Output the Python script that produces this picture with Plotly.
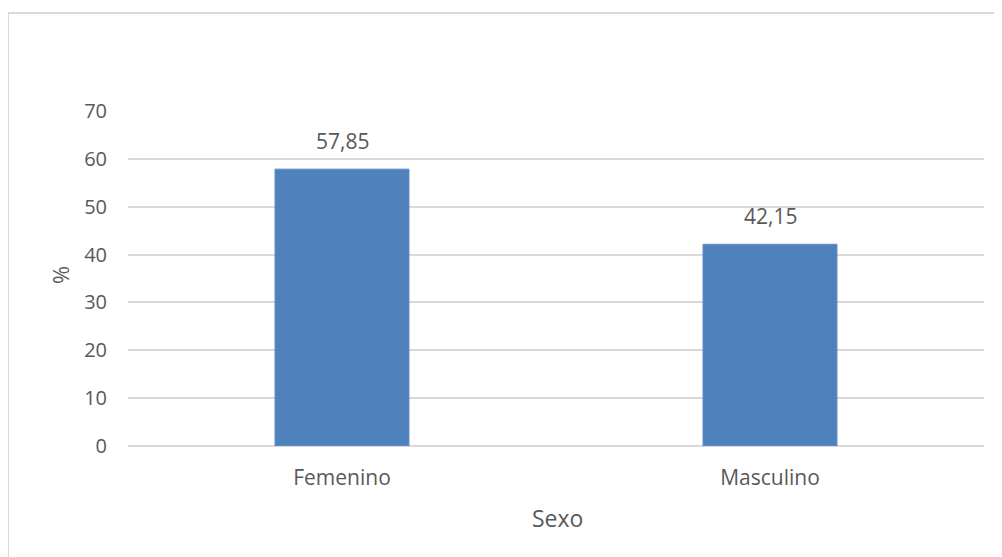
import plotly.graph_objects as go

categories = ["Femenino", "Masculino"]
values = [57.85, 42.15]
y_ticks = [0, 10, 20, 30, 40, 50, 60, 70]

# page has an 8px body margin; compensate so the plot lands where the reference has it
OFF = 8
W, H = 1002 - OFF, 557 - OFF
L, R, T, B = 128 - OFF, 18, 111 - OFF, 111
pw, ph = W - L - R, H - T - B

font_color = "#595959"
font_family = "Open Sans, Lato, sans-serif"

fig = go.Figure()
fig.add_trace(go.Bar(
    x=categories, y=values,
    marker=dict(color="#4F81BD", line=dict(color="#5B8DCA", width=1)),
    width=0.313,
    hoverinfo="skip",
))

for c, v in zip(categories, values):
    fig.add_annotation(
        x=c, y=v, xref="x", yref="y",
        text=f"{v:.2f}".replace(".", ","),
        showarrow=False, yanchor="bottom", yshift=12,
        font=dict(size=21, color=font_color, family=font_family),
    )

def px_x(x):
    return (x - OFF - L) / pw

def px_y(y):
    return (H - B - (y - OFF)) / ph

# axis titles
fig.add_annotation(x=px_x(557), y=px_y(518), xref="paper", yref="paper",
                   xanchor="center", yanchor="middle",
                   text="Sexo", showarrow=False,
                   font=dict(size=23, color=font_color, family=font_family))
fig.add_annotation(x=px_x(60), y=px_y(275), xref="paper", yref="paper",
                   xanchor="center", yanchor="middle",
                   text="%", showarrow=False, textangle=-90,
                   font=dict(size=22, color=font_color, family=font_family))

# chart border (left and top edges visible)
bx0 = px_x(8)
by1 = px_y(13)
fig.add_shape(type="line", xref="paper", yref="paper", x0=bx0, x1=bx0,
              y0=-1, y1=by1, line=dict(color="#d9d9d9", width=2))
fig.add_shape(type="line", xref="paper", yref="paper", x0=bx0, x1=2,
              y0=by1, y1=by1, line=dict(color="#d9d9d9", width=2))

fig.update_layout(
    width=W, height=H,
    margin=dict(l=L, r=R, t=T, b=B),
    plot_bgcolor="white", paper_bgcolor="white",
    showlegend=False,
    font=dict(family=font_family, color=font_color, size=20),
    xaxis=dict(showgrid=False, showline=False, zeroline=False,
               ticks="", ticklabelstandoff=17,
               tickfont=dict(size=21, color=font_color)),
    yaxis=dict(range=[0, 70], tickvals=y_ticks, showgrid=True,
               gridcolor="#d9d9d9", gridwidth=1.5,
               zeroline=True, zerolinecolor="#d9d9d9", zerolinewidth=1.5,
               showline=False, ticks="", ticklabelstandoff=20,
               tickfont=dict(size=20, color=font_color)),
)

fig.write_html("out.html")
